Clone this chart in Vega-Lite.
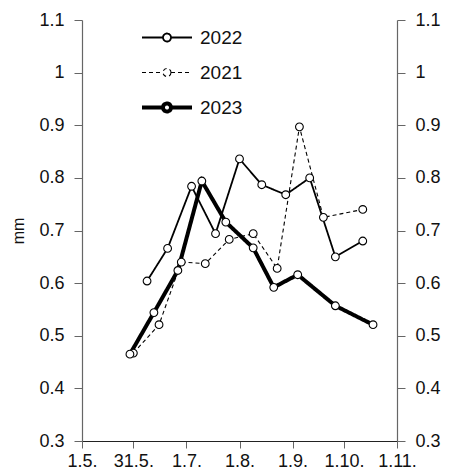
{
  "$schema": "https://vega.github.io/schema/vega-lite/v6.json",
  "width": 315,
  "height": 421,
  "autosize": "none",
  "padding": {"left": 82, "top": 20, "right": 61, "bottom": 31},
  "config": {
    "font": "Liberation Sans",
    "view": {"stroke": null},
    "axis": {"grid": false, "labelFontSize": 18, "labelColor": "#111", "domainColor": "#666", "tickColor": "#666", "domainWidth": 1.2, "titleFontWeight": "normal", "titleFontSize": 16, "titleColor": "#111"}
  },
  "data": {"values": [
    {"year": "2022", "date": "2023-06-08", "v": 0.604},
    {"year": "2022", "date": "2023-06-20", "v": 0.666},
    {"year": "2022", "date": "2023-07-04", "v": 0.784},
    {"year": "2022", "date": "2023-07-18", "v": 0.694},
    {"year": "2022", "date": "2023-08-01", "v": 0.836},
    {"year": "2022", "date": "2023-08-14", "v": 0.787},
    {"year": "2022", "date": "2023-08-28", "v": 0.768},
    {"year": "2022", "date": "2023-09-11", "v": 0.800},
    {"year": "2022", "date": "2023-09-26", "v": 0.650},
    {"year": "2022", "date": "2023-10-12", "v": 0.680},
    {"year": "2021", "date": "2023-05-31", "v": 0.467},
    {"year": "2021", "date": "2023-06-15", "v": 0.521},
    {"year": "2021", "date": "2023-06-28", "v": 0.640},
    {"year": "2021", "date": "2023-07-12", "v": 0.637},
    {"year": "2021", "date": "2023-07-26", "v": 0.683},
    {"year": "2021", "date": "2023-08-09", "v": 0.694},
    {"year": "2021", "date": "2023-08-23", "v": 0.628},
    {"year": "2021", "date": "2023-09-05", "v": 0.897},
    {"year": "2021", "date": "2023-09-19", "v": 0.725},
    {"year": "2021", "date": "2023-10-12", "v": 0.740},
    {"year": "2023", "date": "2023-05-29", "v": 0.465},
    {"year": "2023", "date": "2023-06-12", "v": 0.544},
    {"year": "2023", "date": "2023-06-26", "v": 0.624},
    {"year": "2023", "date": "2023-07-10", "v": 0.794},
    {"year": "2023", "date": "2023-07-24", "v": 0.716},
    {"year": "2023", "date": "2023-08-09", "v": 0.667},
    {"year": "2023", "date": "2023-08-21", "v": 0.592},
    {"year": "2023", "date": "2023-09-04", "v": 0.616},
    {"year": "2023", "date": "2023-09-26", "v": 0.557},
    {"year": "2023", "date": "2023-10-18", "v": 0.521}
  ]},
  "encoding": {
    "x": {
      "field": "date", "type": "temporal",
      "scale": {"type": "utc", "domain": [{"year": 2023, "month": 5, "date": 1, "utc": true}, {"year": 2023, "month": 11, "date": 1, "utc": true}]},
      "axis": {
        "title": null, "labelExpr": "utcFormat(datum.value, '%-d.%-m.')",
        "values": [{"year": 2023, "month": 5, "date": 1, "utc": true}, {"year": 2023, "month": 5, "date": 31, "utc": true}, {"year": 2023, "month": 7, "date": 1, "utc": true}, {"year": 2023, "month": 8, "date": 1, "utc": true}, {"year": 2023, "month": 9, "date": 1, "utc": true}, {"year": 2023, "month": 10, "date": 1, "utc": true}, {"year": 2023, "month": 11, "date": 1, "utc": true}],
        "tickSize": 7, "labelPadding": 4, "domainColor": "#222", "labelFlush": false, "labelOverlap": false
      }
    }
  },
  "layer": [
    {
      "mark": {"type": "line", "color": "black"},
      "encoding": {
        "y": {"field": "v", "type": "quantitative", "scale": {"domain": [0.3, 1.1], "nice": false, "zero": false},
          "axis": {"orient": "left", "title": "mm", "values": [0.3, 0.4, 0.5, 0.6, 0.7, 0.8, 0.9, 1.0, 1.1], "format": ".1~f", "tickSize": 8, "labelPadding": 10, "titlePadding": 12}},
        "strokeDash": {"field": "year", "type": "nominal",
          "scale": {"domain": ["2022", "2021", "2023"], "range": [[1, 0], [4, 3], [1, 0]]},
          "legend": {
            "title": null, "orient": "none", "legendX": 58, "legendY": 0, "padding": 0,
            "symbolType": "M-1,0L-0.16,0M0.16,0L1,0M0.16,0A0.16,0.16 0 1,1 -0.16,0A0.16,0.16 0 1,1 0.16,0",
            "symbolSize": 2500, "symbolFillColor": "white", "symbolStrokeColor": "black",
            "clipHeight": 35, "rowPadding": 0, "labelFontSize": 19, "labelColor": "#111", "labelOffset": 6
          }},
        "strokeWidth": {"field": "year", "type": "nominal",
          "scale": {"type": "ordinal", "domain": ["2022", "2021", "2023"], "range": [1.8, 1.1, 4]}, "legend": null}
      }
    },
    {
      "mark": {"type": "point", "shape": "circle", "filled": true, "fill": "white", "stroke": "black", "strokeWidth": 1.1, "size": 60, "opacity": 1},
      "encoding": {
        "y": {"field": "v", "type": "quantitative", "scale": {"domain": [0.3, 1.1], "nice": false, "zero": false},
          "axis": {"orient": "right", "title": null, "values": [0.3, 0.4, 0.5, 0.6, 0.7, 0.8, 0.9, 1.0, 1.1], "format": ".1~f", "tickSize": 8, "labelPadding": 10}}
      }
    }
  ],
  "resolve": {"scale": {"y": "independent"}, "axis": {"y": "independent"}}
}
